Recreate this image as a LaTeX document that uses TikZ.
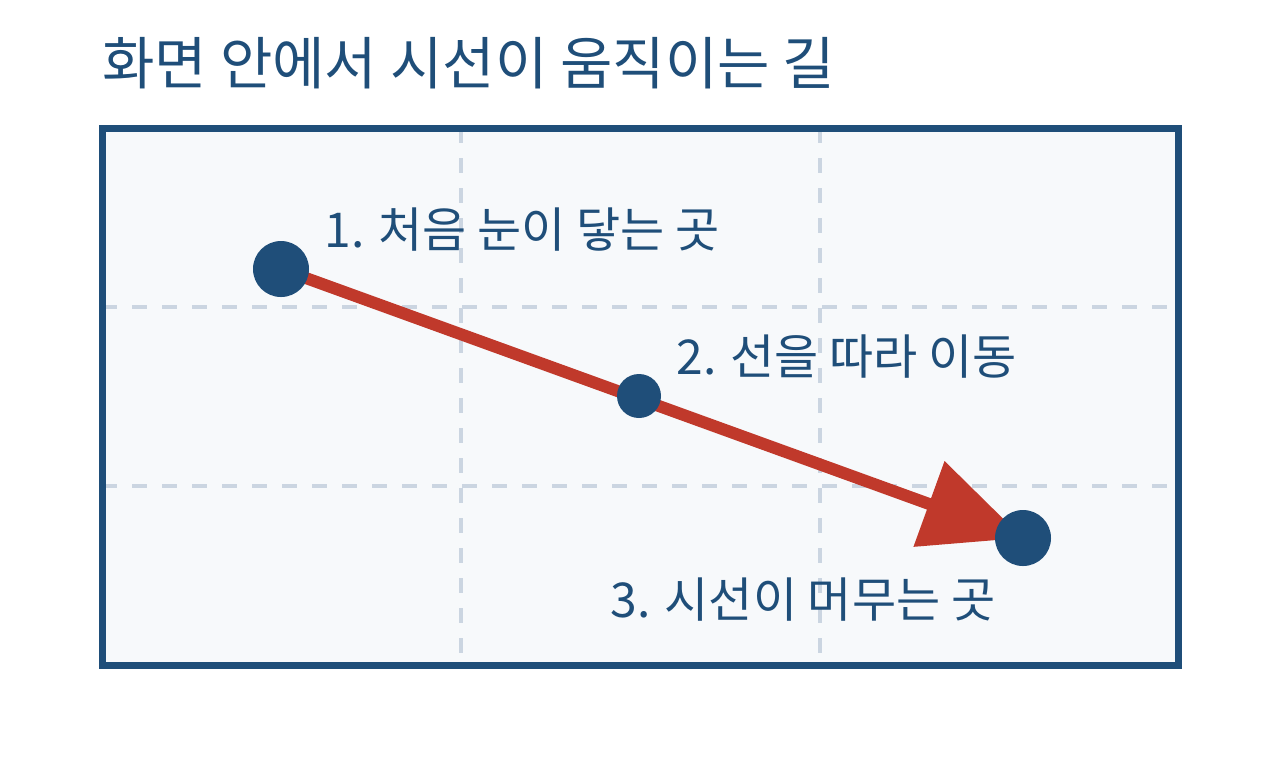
\documentclass[tikz,border=0pt]{standalone}
\usepackage{fontspec}
\usepackage{tikz}
\usetikzlibrary{arrows.meta}
\newfontfamily\kr{Noto Sans CJK KR}
\definecolor{navy}{HTML}{1F4E79}
\definecolor{gazered}{HTML}{C0392B}
\definecolor{gridgray}{HTML}{CBD5E1}
\definecolor{paper}{HTML}{F7F9FB}
\tikzset{
  dot/.style={circle, fill=navy, inner sep=0pt, minimum size=#1},
  label/.style={anchor=west, inner sep=0pt, text=navy, font=\kr\fontsize{24pt}{29pt}\selectfont},
  guide/.style={gridgray, line width=2pt, dash pattern=on 7.5pt off 7.5pt},
  gaze/.style={gazered, line width=6pt, -{Triangle[length=50pt, width=44pt]}}
}

\begin{document}
\begin{tikzpicture}[x=0.5pt, y=-0.5pt]
\useasboundingbox (0,0) rectangle (1280,768);

% title
\node[anchor=west, inner sep=0pt, text=navy, font=\kr\fontsize{28.5pt}{34pt}\selectfont] (title) at (102,63) {화면 안에서 시선이 움직이는 길};

% screen frame with rule-of-thirds grid
\fill[paper] (102,128) rectangle (1178,665);
\foreach \x in {461,820} {
\draw[guide] (\x,128) -- (\x,665);
}
\foreach \y in {307,486} {
\draw[guide] (102,\y) -- (1178,\y);
}
\draw[navy, line width=3.5pt] (102,128) rectangle (1178,665);

% path of the eye
\coordinate (p1) at (281,269);
\coordinate (p2) at (639,396);
\coordinate (p3) at (1023,538);
\draw[gaze] (p1) -- (p3);

\node[dot=28pt] (first) at (p1) {};
\node[dot=22pt] (middle) at (p2) {};
\node[dot=28pt] (last) at (p3) {};

\node[label] (l1) at (324,230) {1. 처음 눈이 닿는 곳};
\node[label] (l2) at (676,357) {2. 선을 따라 이동};
\node[label] (l3) at (610,600) {3. 시선이 머무는 곳};

\end{tikzpicture}
\end{document}
